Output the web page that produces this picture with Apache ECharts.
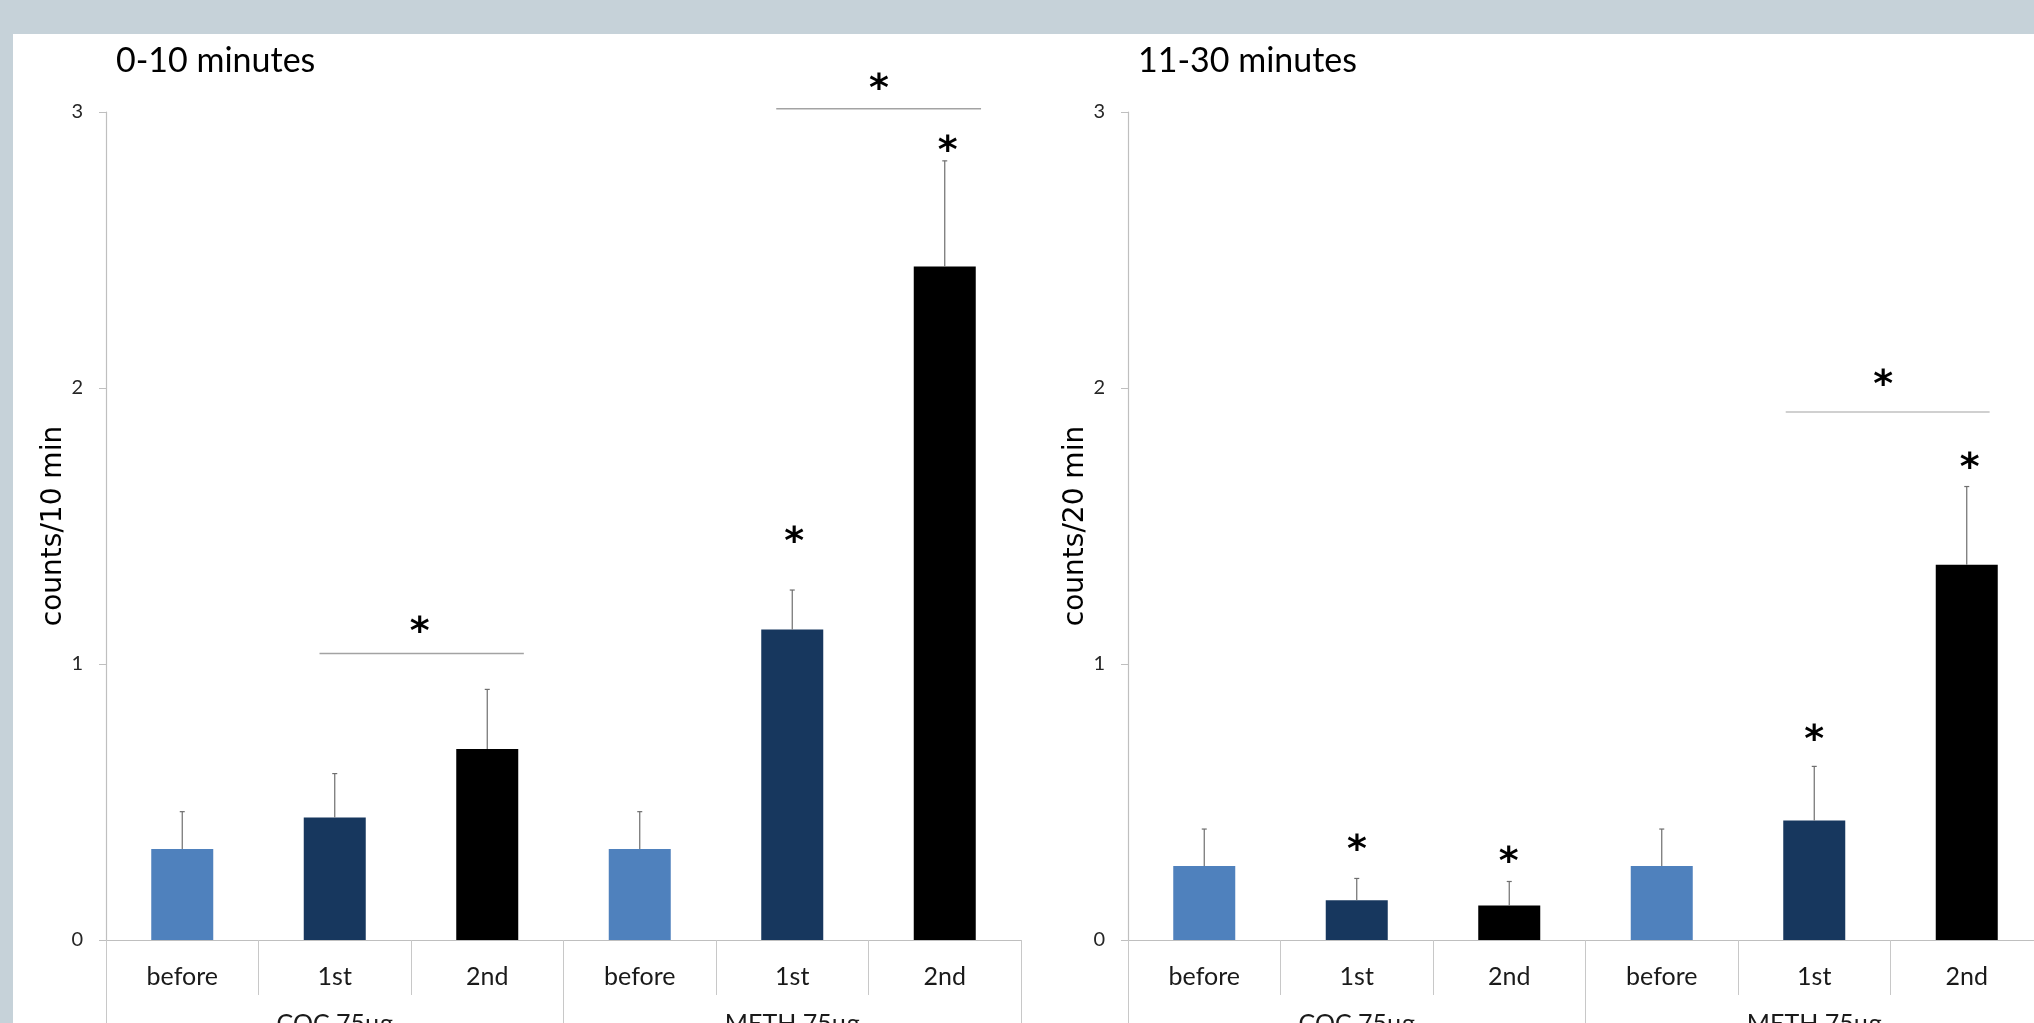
<!DOCTYPE html>
<html><head><meta charset="utf-8">
<script src="https://cdn.jsdelivr.net/npm/echarts@6/dist/echarts.min.js"></script>
<style>
html,body{margin:0;padding:0;background:#c6d2d9;overflow:hidden;}
#panel{position:absolute;left:13px;top:34px;width:2021px;height:989px;background:#ffffff;}
#c{position:absolute;left:0;top:0;width:2034px;height:1023px;}
</style>
</head><body><div id="panel"></div><div id="c"></div>
<script>
// ---- data ----
const categories = ['before', '1st', '2nd', 'before', '1st', '2nd'];
const groups = ['COC 75μg', 'METH 75μg'];
const panelTitles = ['0-10 minutes', '11-30 minutes'];
const yAxisNames = ['counts/10 min', 'counts/20 min'];
const yTicks = [0, 1, 2, 3];
const barColors = ['#4f81bd', '#17375e', '#000000', '#4f81bd', '#17375e', '#000000'];

const meansEarly = [0.33, 0.444, 0.692, 0.33, 1.125, 2.44];
const semEarly = [0.135, 0.159, 0.216, 0.135, 0.143, 0.383];
const meansLate = [0.268, 0.144, 0.125, 0.268, 0.433, 1.36];
const semLate = [0.134, 0.079, 0.087, 0.134, 0.196, 0.283];

// significance annotations: brackets [xFrom, xTo, y], stars [x, y] (x in category units)
const bracketsEarly = [[0.90, 2.24, 1.038], [3.895, 5.238, 3.012]];
const bracketsLate = [[3.813, 5.15, 1.913]];
const starsEarly = [[1.557, 1.146], [4.569, 3.111], [5.02, 2.888], [4.012, 1.469]];
const starsLate = [[4.452, 2.038], [5.02, 1.739], [4.0, 0.753], [1.002, 0.354], [1.996, 0.310]];

// ---- chart ----
const chart = echarts.init(document.getElementById('c'), null, {renderer: 'canvas'});
const AX = '#bfbfbf';
const grids = [
  {left: 106, top: 112, width: 915, height: 828, outerBoundsMode: 'none', containLabel: false},
  {left: 1128, top: 112, width: 915, height: 828, outerBoundsMode: 'none', containLabel: false}
];
const panels = [
  {means: meansEarly, sem: semEarly, brackets: bracketsEarly, stars: starsEarly, bracketColor: '#a3a3a3', bracketWidth: 1.4},
  {means: meansLate, sem: semLate, brackets: bracketsLate, stars: starsLate, bracketColor: '#d0d0d0', bracketWidth: 2.2}
];

const xAxes = [], yAxes = [], series = [], titles = [];
panels.forEach((p, g) => {
  const base = g * 3;
  titles.push({
    text: panelTitles[g], left: grids[g].left + 10, top: 44, padding: 0,
    textStyle: {fontFamily: 'Lato', fontSize: 34, fontWeight: 'normal', color: '#000'}
  });
  xAxes.push({
    type: 'category', gridIndex: g, data: categories, position: 'bottom',
    axisLine: {show: true, onZero: false, lineStyle: {color: AX, width: 1.2}},
    axisTick: {show: true, interval: 0, alignWithLabel: false, length: 55, lineStyle: {color: '#c8c8c8'}},
    axisLabel: {interval: 0, margin: 24, fontFamily: 'Lato', fontSize: 25, color: '#1a1a1a'},
    splitLine: {show: false}
  });
  xAxes.push({
    type: 'category', gridIndex: g, data: groups, position: 'bottom',
    axisLine: {show: false, onZero: false},
    axisTick: {show: true, interval: 0, alignWithLabel: false, length: 130, lineStyle: {color: '#c8c8c8'}},
    axisLabel: {interval: 0, margin: 71, fontFamily: 'Lato', fontSize: 25, color: '#1a1a1a'},
    splitLine: {show: false}
  });
  xAxes.push({type: 'value', gridIndex: g, min: -0.5, max: 5.5, show: false, axisLine: {onZero: false}});
  yAxes.push({
    type: 'value', gridIndex: g, min: yTicks[0], max: yTicks[yTicks.length - 1], interval: 1,
    axisLine: {show: true, onZero: false, lineStyle: {color: AX, width: 1.2}},
    axisTick: {show: true, length: 7, lineStyle: {color: AX}},
    splitLine: {show: false},
    axisLabel: {margin: 23, fontFamily: 'Lato', fontSize: 20, color: '#262626'},
    name: yAxisNames[g], nameLocation: 'middle', nameGap: 38,
    nameTextStyle: {fontFamily: 'DejaVu Sans', fontSize: 28, color: '#000'}
  });
  series.push({
    type: 'bar', xAxisIndex: base, yAxisIndex: g, barWidth: 62, z: 2,
    data: p.means.map((v, i) => ({value: v, itemStyle: {color: barColors[i]}})),
    silent: true
  });
  series.push({
    type: 'custom', xAxisIndex: base, yAxisIndex: g, z: 3, silent: true,
    data: p.means.map((v, i) => [i, v, v + p.sem[i]]),
    encode: {x: 0, y: [1, 2]},
    renderItem: function (params, api) {
      const a = api.coord([api.value(0), api.value(1)]);
      const b = api.coord([api.value(0), api.value(2)]);
      const st = {stroke: '#6e6e6e', lineWidth: 1.2};
      return {type: 'group', children: [
        {type: 'line', shape: {x1: a[0], y1: a[1], x2: b[0], y2: b[1]}, style: st},
        {type: 'line', shape: {x1: b[0] - 2.5, y1: b[1], x2: b[0] + 2.5, y2: b[1]}, style: st}
      ]};
    }
  });
  series.push({
    type: 'custom', xAxisIndex: base + 2, yAxisIndex: g, z: 3, silent: true,
    data: p.brackets,
    encode: {x: [0, 1], y: 2},
    renderItem: function (params, api) {
      const a = api.coord([api.value(0), api.value(2)]);
      const b = api.coord([api.value(1), api.value(2)]);
      return {type: 'line', shape: {x1: a[0], y1: a[1], x2: b[0], y2: b[1]},
        style: {stroke: p.bracketColor, lineWidth: p.bracketWidth}};
    }
  });
  series.push({
    type: 'custom', xAxisIndex: base + 2, yAxisIndex: g, z: 4, silent: true,
    data: p.stars,
    encode: {x: 0, y: 1},
    renderItem: function (params, api) {
      const c = api.coord([api.value(0), api.value(1)]);
      return {type: 'text', x: c[0], y: c[1] + 9,
        style: {text: '*', fontFamily: 'DejaVu Sans', fontWeight: 'bold', fontSize: 38, fill: '#000',
          align: 'center', verticalAlign: 'middle'}};
    }
  });
});

chart.setOption({
  backgroundColor: 'transparent',
  animation: false,
  title: titles,
  grid: grids,
  xAxis: xAxes,
  yAxis: yAxes,
  series: series
});
</script>
</body></html>
